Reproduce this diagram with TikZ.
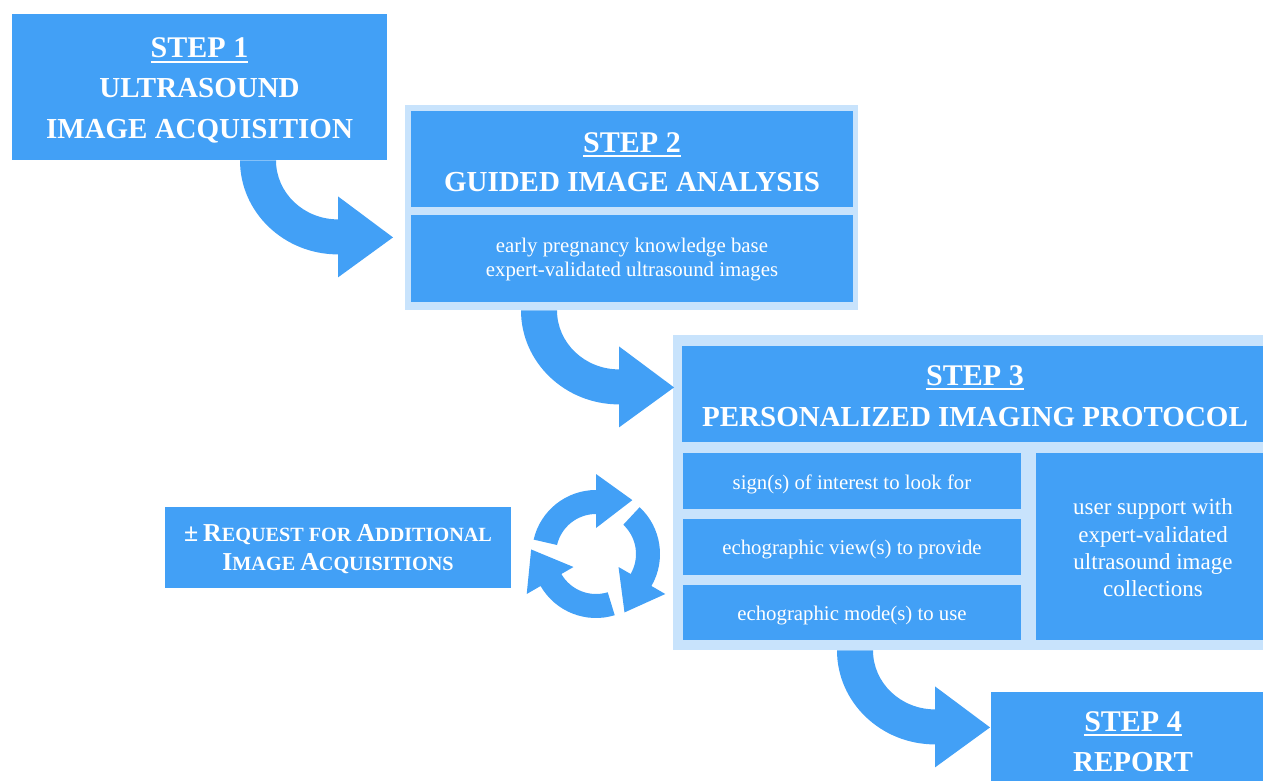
\documentclass[tikz,border=0pt]{standalone}
\usepackage{fontspec}
\setmainfont{Liberation Serif}
\usetikzlibrary{calc}
\definecolor{boxblue}{RGB}{66,160,246}
\definecolor{edgeblue}{RGB}{200,227,252}
\newcommand\steplabel[1]{\leavevmode\vtop{\hbox{#1}\kern2.5pt\hrule height 2pt}}
\newcommand\bigsc[1]{{\fontsize{25.8}{29}\selectfont #1}}
\begin{document}
\begin{tikzpicture}[x=1pt,y=-1pt,
  darkbox/.style={fill=boxblue, draw=none, inner sep=0pt, anchor=north west},
  lightbox/.style={fill=edgeblue, draw=none, inner sep=0pt, anchor=north west},
  titletxt/.style={text=white, font=\fontsize{29}{35}\selectfont\bfseries, anchor=base, inner sep=0pt},
  steptxt/.style={text=white, font=\fontsize{30}{35}\selectfont\bfseries, anchor=base, inner sep=0pt},
  smalltxt/.style={text=white, font=\fontsize{20.8}{24}\selectfont, inner sep=0pt, align=center},
  reqtxt/.style={text=white, font=\fontsize{20.2}{29}\selectfont\bfseries, anchor=base, inner sep=0pt},
  bend arrow/.pic={\fill[boxblue] (0,0) .. controls (0,51.9) and (43.9,94) .. (98,94) -- (98,117) -- (153,77) -- (98,36) -- (98,59) .. controls (63.8,59) and (36,32.6) .. (36,0) -- cycle;},
  cyc/.pic={\fill[boxblue] ({#1-77}:64) arc[start angle={#1-77}, end angle=#1, radius=64] -- (#1:80) -- ({#1+34}:65) -- (#1:26) -- (#1:40) arc[start angle=#1, end angle={#1-77}, radius=40] -- cycle;}
]
\useasboundingbox (0,0) rectangle (1263,781);

% Step 1
\node[darkbox, minimum width=375pt, minimum height=146pt] (s1) at (12,14) {};
\node[steptxt] (t1a) at (199.5,58) {\steplabel{STEP 1}};
\node[titletxt] (t1b) at (199.5,98) {ULTRASOUND};
\node[titletxt] (t1c) at (199.5,139) {IMAGE ACQUISITION};

% Step 2
\node[lightbox, minimum width=453pt, minimum height=205pt] (s2) at (405,105) {};
\node[darkbox, minimum width=442pt, minimum height=96pt] (s2top) at (411,111) {};
\node[darkbox, minimum width=442pt, minimum height=87pt] (s2bot) at (411,215) {};
\node[steptxt] (t2a) at (632,152) {\steplabel{STEP 2}};
\node[titletxt] (t2b) at (632,191) {GUIDED IMAGE ANALYSIS};
\node[smalltxt] (t2c) at (632,260) {early pregnancy knowledge base\\expert-validated ultrasound images};

% Step 3
\node[lightbox, minimum width=610pt, minimum height=315pt] (s3) at (673,335) {};
\node[darkbox, minimum width=585pt, minimum height=96pt] (s3top) at (682,346) {};
\node[darkbox, minimum width=338pt, minimum height=56pt] (s3a) at (683,453) {};
\node[darkbox, minimum width=338pt, minimum height=56pt] (s3b) at (683,519) {};
\node[darkbox, minimum width=338pt, minimum height=55pt] (s3c) at (683,585) {};
\node[darkbox, minimum width=234pt, minimum height=187pt] (s3d) at (1036,453) {};
\node[steptxt] (t3a) at (975,385) {\steplabel{STEP 3}};
\node[titletxt] (t3b) at (975,426) {PERSONALIZED IMAGING PROTOCOL};
\node[smalltxt, anchor=base] (c1) at (852,489) {sign(s) of interest to look for};
\node[smalltxt, anchor=base] (c2) at (852,554) {echographic view(s) to provide};
\node[smalltxt, anchor=base] (c3) at (852,620) {echographic mode(s) to use};
\node[text=white, font=\fontsize{23}{27.3}\selectfont, align=center, inner sep=0pt] (c4) at (1153,548) {user support with\\expert-validated\\ultrasound image\\collections};

% Step 4
\node[darkbox, minimum width=284pt, minimum height=100pt] (s4) at (991,692) {};
\node[steptxt] (t4a) at (1133,731) {\steplabel{STEP 4}};
\node[titletxt] (t4b) at (1133,771) {REPORT};

% Request box
\node[darkbox, minimum width=346pt, minimum height=81pt] (req) at (165,507) {};
\node[reqtxt] (r1) at (338,541) {\bigsc{±} \bigsc{R}EQUEST FOR \bigsc{A}DDITIONAL};
\node[reqtxt] (r2) at (338,570) {\bigsc{I}MAGE \bigsc{A}CQUISITIONS};

% curved arrows
\pic at ($(s1.south west)+(228,0)$) {bend arrow};
\pic at ($(s2.south west)+(116,0)$) {bend arrow};
\pic at ($(s3.south west)+(164,0)$) {bend arrow};

% cycle icon
\coordinate (cyccenter) at (596,554);
\pic at (cyccenter) {cyc=270};
\pic at (cyccenter) {cyc=30};
\pic at (cyccenter) {cyc=150};
\end{tikzpicture}
\end{document}
